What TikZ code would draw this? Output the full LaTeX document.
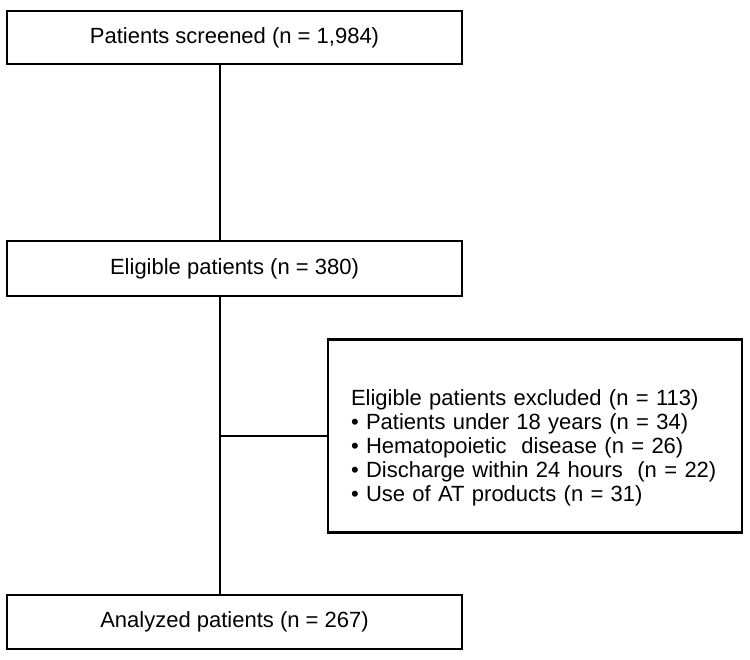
\documentclass[tikz,border=0pt]{standalone}
\usepackage{fontspec}
\setmainfont{Liberation Sans}
\usetikzlibrary{positioning}
\tikzset{
  % kotak alur utama (lebar sama)
  flowbox/.style={draw=black, line width=2.8pt, rectangle, minimum width=455pt,
                  inner sep=0pt, font=\fontsize{22}{24}\selectfont},
  % kotak pengecualian (teks rata kiri)
  exclbox/.style={draw=black, line width=2.8pt, rectangle, align=left,
                  minimum width=414pt, minimum height=193pt, text width=368pt,
                  font=\fontsize{22}{24}\selectfont},
  % garis penghubung
  link/.style={line width=2.8pt, black},
}

\begin{document}
\begin{tikzpicture}[x=1pt, y=-1pt]
\useasboundingbox (0,0) rectangle (750,659);

% =================== KOTAK ===================
\node[flowbox, minimum height=53pt] (screened) at (234.5,37.5) {Patients screened (n = 1,984)};
\node[flowbox, minimum height=55pt] (eligible) at (234.5,268.5) {Eligible patients (n = 380)};
\node[flowbox, minimum height=54pt] (analyzed) at (234.5,622) {Analyzed patients (n = 267)};

\node[exclbox, text height=40pt] (excluded) at (535,436) {Eligible patients excluded (n = 113)\\
  \textbullet{} Patients under 18 years (n = 34)\\
  \textbullet{} Hematopoietic\ \ disease (n = 26)\\
  \textbullet{} Discharge within 24 hours\ \ (n = 22)\\
  \textbullet{} Use of AT products (n = 31)};

% =================== GARIS ===================
\coordinate (spine) at (220,0);
\draw[link] (screened.south -| spine) -- (eligible.north -| spine);
\draw[link] (eligible.south -| spine) -- (analyzed.north -| spine);
\draw[link] (excluded.west) -- (excluded.west -| spine);

\end{tikzpicture}
\end{document}
